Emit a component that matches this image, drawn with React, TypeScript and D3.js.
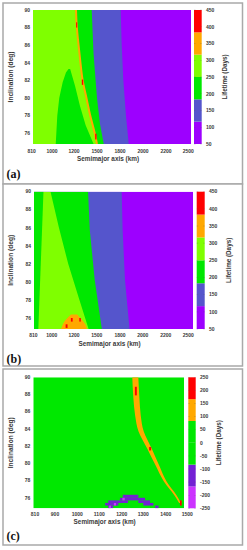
import * as d3 from 'd3';
import React from 'react';

type Pt = [number, number]; // [inclination (deg), semimajor axis (km)]
type Cell = [number, number, number, number]; // [incl lo, incl hi, km lo, km hi]

// axes
const ticksAB = [810, 1000, 1200, 1500, 1800, 2000, 2200, 2500];
const ticksC = [810, 900, 1000, 1100, 1200, 1300, 1400, 1500];
const inclTicks = [90, 88, 86, 84, 82, 80, 78, 76];
const inclDomain = [74.78, 90];
const lifeTicksAB = [450, 400, 350, 300, 250, 200, 150, 100, 50];
const lifeTicksC = [250, 200, 150, 100, 50, 0, -50, -100, -150, -200, -250];
const bandEdgesAB = [50, 116.7, 183.3, 250, 316.7, 383.3, 450];
const bandEdgesC = [-250, -166.7, -83.3, 0, 83.3, 166.7, 250];

const col = {
  red: '#ff0000', orange: '#ffa800', lime: '#7fff00', green: '#00e800',
  blue: '#5555cc', purple: '#9d00ff', indigo: '#7420d4', violet: '#cc33ff'
};
const bandColorsAB = [col.purple, col.blue, col.green, col.lime, col.orange, col.red];
const bandColorsC = [col.violet, col.indigo, col.green, col.green, col.orange, col.red];

// panel (a)
const aLine: Pt[] = [[90, 1226], [88.3, 1235], [86.3, 1256], [84.5, 1278], [82, 1313], [79.9, 1365], [78.1, 1409], [76.2, 1465], [74.78, 1500]];
const aPeak: Pt[] = [[74.78, 1034], [78, 1048], [80, 1066], [81.8, 1097], [82.9, 1127], [83.3, 1150], [83.3, 1165], [81.4, 1213], [79.1, 1278], [76.9, 1352], [74.78, 1455]];
const aGreenBlue: Pt[] = [[90, 1431], [85, 1455], [80, 1500], [77, 1540], [74.78, 1588]];
const aBluePurple: Pt[] = [[90, 1806], [86, 1815], [82, 1829], [78, 1852], [74.78, 1876]];
const aRed: Cell[] = [[88.0, 88.6, 1228, 1242], [81.5, 82.1, 1302, 1320], [75.3, 75.95, 1476, 1494]];

// panel (b)
const bLeftStrip: Pt[] = [[90, 915], [74.78, 862]];
const bLimeGreen: Pt[] = [[90, 988], [86, 1065], [82, 1148], [78, 1272], [74.78, 1393]];
const bGreenBlue: Pt[] = [[90, 1386], [85.8, 1408], [80.2, 1474], [74.78, 1566]];
const bBluePurple: Pt[] = [[90, 1815], [85.8, 1823], [80.2, 1844], [74.78, 1884]];
const bBlob: Pt[] = [[74.78, 1084], [75.3, 1100], [75.7, 1118], [76.1, 1150], [76.4, 1173], [76.4, 1243], [76.1, 1270], [75.7, 1317], [75.3, 1350], [74.78, 1373]];
const bRed: Cell[] = [[74.9, 75.3, 1125, 1142], [75.6, 76.0, 1172, 1188], [75.6, 76.0, 1270, 1290]];

// panel (c)
const cBandIncl = [90, 87.6, 85.6, 83.7, 81.7, 79.8, 77.9, 76.3, 75.4];
const cBandLeft = [1249, 1254, 1262, 1278, 1318, 1354, 1392, 1440, 1462];
const cBandRight = [1277, 1282, 1288, 1302, 1338, 1370, 1404, 1450, 1470];
const cIndigo: Cell[] = [
  [76.0, 76.35, 1205, 1277], [75.7, 76.0, 1192, 1308],
  [75.4, 75.7, 1140, 1229], [75.4, 75.7, 1277, 1330],
  [75.1, 75.4, 1126, 1185], [75.1, 75.4, 1300, 1345],
  [74.78, 75.1, 1140, 1162], [74.78, 75.1, 1353, 1368]
];
const cViolet: Cell[] = [[75.7, 76.0, 1203, 1214], [75.1, 75.4, 1165, 1175], [74.78, 75.1, 1143, 1152]];
const cRed: Cell[] = [[87.9, 88.9, 1261, 1270], [81.5, 81.9, 1326, 1335], [75.1, 75.7, 1466, 1474]];

const SANS = '"Liberation Sans", Arial, sans-serif';
const INK = '#3a3a3a';

type Layout = {
  id: string; tag: string; box: [number, number];
  plot: { x0: number; x1: number; y0: number; y1: number };
  tickPos: number[]; cbar: [number, number]; cbLabelX: number; cbTitleX: number;
  tickY: number; xTitleY: number; tagY: number;
};

const layouts: Layout[] = [
  { id: 'a', tag: '(a)', box: [3, 184], plot: { x0: 33, x1: 191, y0: 10, y1: 144 }, tickPos: [31.7, 52, 74, 97, 120, 143, 166, 188.3], cbar: [194, 201.7], cbLabelX: 206, cbTitleX: 225, tickY: 153, xTitleY: 160.5, tagY: 178 },
  { id: 'b', tag: '(b)', box: [184, 366], plot: { x0: 34, x1: 193, y0: 191.7, y1: 329 }, tickPos: [33.3, 51.7, 74, 96.7, 120, 142.7, 165.7, 188.3], cbar: [196.7, 204.7], cbLabelX: 209, cbTitleX: 229, tickY: 337, xTitleY: 346, tagY: 363 },
  { id: 'c', tag: '(c)', box: [369, 545], plot: { x0: 33.3, x1: 184, y0: 377.3, y1: 508.3 }, tickPos: [35, 55, 77.3, 99.3, 121.7, 143.3, 165.7, 187.3], cbar: [188.3, 195.7], cbLabelX: 200, cbTitleX: 219, tickY: 516.3, xTitleY: 524, tagY: 540 }
];

type Scales = { x: d3.ScaleLinear<number, number>; y: d3.ScaleLinear<number, number>; left: number };

const leftOf = (s: Scales, pts: Pt[]) =>
  d3.area<Pt>().y(d => s.y(d[0])).x0(s.left).x1(d => s.x(d[1]))(pts) ?? '';
const outline = (s: Scales, pts: Pt[]) =>
  (d3.line<Pt>().x(d => s.x(d[1])).y(d => s.y(d[0]))(pts) ?? '') + 'Z';
const cells = (s: Scales, list: Cell[], fill: string) =>
  list.map((c, i) => (
    <rect key={fill + i} x={s.x(c[2])} y={s.y(c[1])} width={s.x(c[3]) - s.x(c[2])} height={s.y(c[0]) - s.y(c[1])} fill={fill} />
  ));

const drawA = (s: Scales, L: Layout) => (
  <>
    <rect x={L.plot.x0} y={L.plot.y0} width={L.plot.x1 - L.plot.x0} height={L.plot.y1 - L.plot.y0} fill={col.purple} />
    <path d={leftOf(s, aBluePurple)} fill={col.blue} />
    <path d={leftOf(s, aGreenBlue)} fill={col.green} />
    <path d={leftOf(s, aLine)} fill={col.lime} />
    <path d={outline(s, aPeak)} fill={col.green} />
    <path d={d3.line<Pt>().x(d => s.x(d[1])).y(d => s.y(d[0])).curve(d3.curveMonotoneY)(aLine) ?? ''} fill="none" stroke={col.orange} strokeWidth={2} />
    {cells(s, aRed, col.red)}
  </>
);

const drawB = (s: Scales, L: Layout) => (
  <>
    <rect x={L.plot.x0} y={L.plot.y0} width={L.plot.x1 - L.plot.x0} height={L.plot.y1 - L.plot.y0} fill={col.purple} />
    <path d={leftOf(s, bBluePurple)} fill={col.blue} />
    <path d={leftOf(s, bGreenBlue)} fill={col.green} />
    <path d={leftOf(s, bLimeGreen)} fill={col.lime} />
    <path d={leftOf(s, bLeftStrip)} fill={col.green} />
    <path d={outline(s, bBlob)} fill={col.orange} />
    {cells(s, bRed, col.red)}
  </>
);

const drawC = (s: Scales, L: Layout) => (
  <>
    <rect x={L.plot.x0} y={L.plot.y0} width={L.plot.x1 - L.plot.x0} height={L.plot.y1 - L.plot.y0} fill={col.green} />
    <path
      d={d3.area<number>().y(i => s.y(cBandIncl[i])).x0(i => s.x(cBandLeft[i])).x1(i => s.x(cBandRight[i])).curve(d3.curveMonotoneY)(d3.range(cBandIncl.length)) ?? ''}
      fill={col.orange}
    />
    {cells(s, cIndigo, col.indigo)}
    {cells(s, cViolet, col.violet)}
    {cells(s, cRed, col.red)}
  </>
);

const Panel: React.FC<{ L: Layout; ticks: number[]; life: number[]; edges: number[]; bands: string[]; draw: (s: Scales, L: Layout) => React.ReactNode }> = ({ L, ticks, life, edges, bands, draw }) => {
  const x = d3.scaleLinear().domain(ticks).range(L.tickPos);
  const y = d3.scaleLinear().domain(inclDomain).range([L.plot.y1, L.plot.y0]);
  const cb = d3.scaleLinear().domain([life[life.length - 1], life[0]]).range([L.plot.y1, L.plot.y0]);
  const s: Scales = { x, y, left: L.plot.x0 };
  const [c0, c1] = L.cbar;
  const midY = (L.plot.y0 + L.plot.y1) / 2;
  return (
    <g>
      <rect x={3} y={L.box[0]} width={239.5} height={L.box[1] - L.box[0]} fill="#fff" stroke="#a9a9a9" strokeWidth={1.5} />
      <clipPath id={'clip-' + L.id}>
        <rect x={L.plot.x0} y={L.plot.y0} width={L.plot.x1 - L.plot.x0} height={L.plot.y1 - L.plot.y0} />
      </clipPath>
      <g clipPath={`url(#clip-${L.id})`}>{draw(s, L)}</g>

      {/* x ticks */}
      {ticks.map(t => (
        <text key={'x' + t} x={x(t)} y={L.tickY} textAnchor="middle" fontSize={5} fontWeight="bold" fill={INK} fontFamily={SANS}>{t}</text>
      ))}
      <text x={(L.plot.x0 + L.plot.x1) / 2 - 4} y={L.xTitleY} textAnchor="middle" fontSize={6.4} fontWeight="bold" fill={INK} fontFamily={SANS}>Semimajor axis (km)</text>

      {/* y ticks */}
      {inclTicks.map(t => (
        <text key={'y' + t} x={L.plot.x0 - 3} y={y(t)} dy="0.35em" textAnchor="end" fontSize={5} fontWeight="bold" fill={INK} fontFamily={SANS}>{t}</text>
      ))}
      <text transform={`translate(${10.5},${midY}) rotate(-90)`} dy="0.35em" textAnchor="middle" fontSize={6.6} fontWeight="bold" fill={INK} fontFamily={SANS}>Inclination (deg)</text>

      {/* colour box */}
      {bands.map((c, i) => (
        <rect key={'b' + i} x={c0} y={cb(edges[i + 1])} width={c1 - c0} height={cb(edges[i]) - cb(edges[i + 1])} fill={c} />
      ))}
      {life.map(t => (
        <g key={'c' + t}>
          <line x1={c0} x2={c0 + 1.5} y1={cb(t)} y2={cb(t)} stroke="#555" strokeWidth={0.4} opacity={0.6} />
          <line x1={c1 - 1.5} x2={c1} y1={cb(t)} y2={cb(t)} stroke="#555" strokeWidth={0.4} opacity={0.6} />
          <text x={L.cbLabelX} y={cb(t)} dy="0.35em" fontSize={5} fontWeight="bold" fill={INK} fontFamily={SANS}>{t}</text>
        </g>
      ))}
      <text transform={`translate(${L.cbTitleX},${midY}) rotate(-90)`} dy="0.35em" textAnchor="middle" fontSize={6.3} fontWeight="bold" fill={INK} fontFamily={SANS}>Lifetime (Days)</text>

      <text x={6.5} y={L.tagY} fontSize={12} fontWeight="bold" fill="#111" fontFamily='"Liberation Serif", "Times New Roman", serif'>{L.tag}</text>
    </g>
  );
};

export default function App() {
  return (
    <svg width={247} height={550} style={{ position: 'absolute', left: 0, top: 0, background: '#fff' }}>
      <Panel L={layouts[0]} ticks={ticksAB} life={lifeTicksAB} edges={bandEdgesAB} bands={bandColorsAB} draw={drawA} />
      <Panel L={layouts[1]} ticks={ticksAB} life={lifeTicksAB} edges={bandEdgesAB} bands={bandColorsAB} draw={drawB} />
      <Panel L={layouts[2]} ticks={ticksC} life={lifeTicksC} edges={bandEdgesC} bands={bandColorsC} draw={drawC} />
    </svg>
  );
}
